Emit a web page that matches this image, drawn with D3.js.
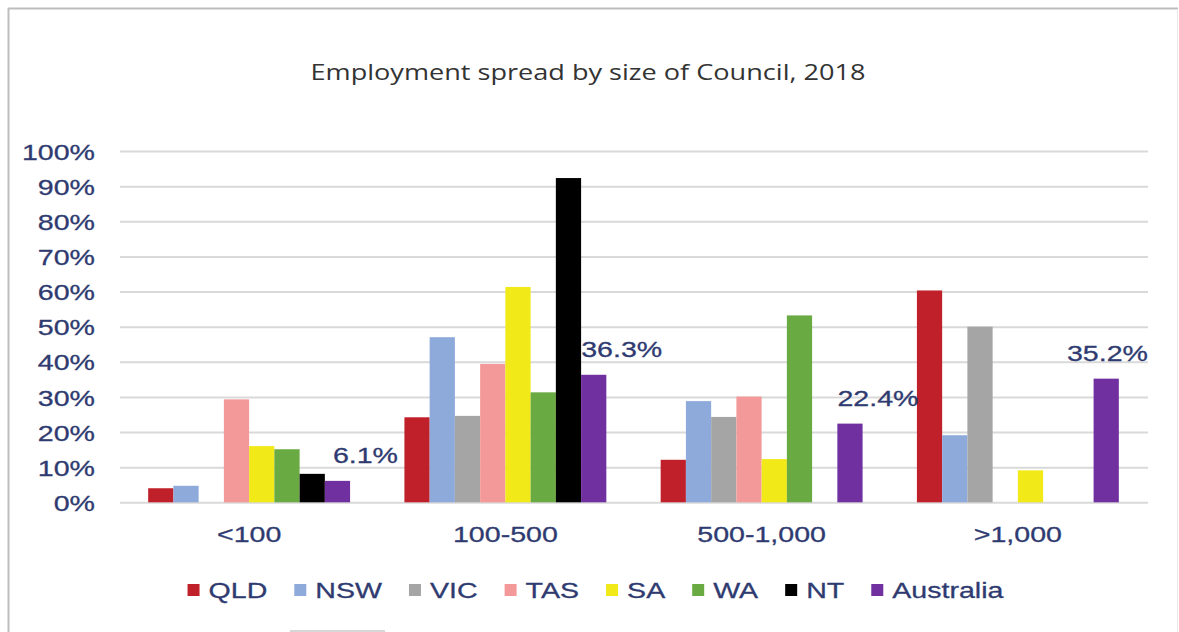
<!DOCTYPE html>
<html>
<head>
<meta charset="utf-8">
<script src="https://cdn.jsdelivr.net/npm/d3@7/dist/d3.min.js"></script>
<style>
  html, body { margin: 0; padding: 0; background: #ffffff; }
  svg { display: block; }
  .lbl { font-family: "Liberation Sans", Arial, sans-serif; fill: #2f3b70; stroke: #2f3b70; stroke-width: 0.3px; }
</style>
</head>
<body>
<svg id="chart" width="1179" height="632"></svg>
<script>
// Council size bands
const categories = ["<100", "100-500", "500-1,000", ">1,000"];
// Jurisdictions (series)
const seriesNames = ["QLD", "NSW", "VIC", "TAS", "SA", "WA", "NT", "Australia"];
// Share of employment (%) per jurisdiction, one value per size band
const QLD       = [4.0, 24.2, 12.1, 60.3];
const NSW       = [4.7, 47.0, 28.8, 19.1];
const VIC       = [0,   24.6, 24.3, 50.0];
const TAS       = [29.3, 39.4, 30.1, 0];
const SA        = [16.0, 61.3, 12.3, 9.1];
const WA        = [15.1, 31.3, 53.2, 0];
const NT        = [8.1, 92.3, 0, 0];
const Australia = [6.1, 36.3, 22.4, 35.2];
const yTicks = [0, 10, 20, 30, 40, 50, 60, 70, 80, 90, 100];
const titleText = "Employment spread by size of Council, 2018";

const seriesValues = [QLD, NSW, VIC, TAS, SA, WA, NT, Australia];
const colors = ["#c0202a", "#8eaadb", "#a5a5a5", "#f4999a", "#f2e918", "#6aaa42", "#000000", "#7030a0"];

const svg = d3.select("#chart");
const W = 1179, H = 632;
const plot = { left: 121, right: 1146, top: 151, bottom: 502.3 };
const STRETCH = 1.27;       // axis fonts are drawn slightly wide
const FONT = 22.5;

// widen a text element horizontally while keeping its anchor
function widen(sel, k) {
  sel.each(function () {
    const len = this.getComputedTextLength();
    d3.select(this).attr("textLength", len * k).attr("lengthAdjust", "spacingAndGlyphs");
  });
  return sel;
}

// frame
svg.append("line").attr("x1", 8).attr("x2", 1178).attr("y1", 8.5).attr("y2", 8.5)
  .attr("stroke", "#bdbdbd").attr("stroke-width", 2);
svg.append("line").attr("x1", 8.5).attr("x2", 8.5).attr("y1", 8).attr("y2", H)
  .attr("stroke", "#bdbdbd").attr("stroke-width", 2);
svg.append("line").attr("x1", 1177.5).attr("x2", 1177.5).attr("y1", 9).attr("y2", H)
  .attr("stroke", "#e8e8e8").attr("stroke-width", 1);
svg.append("line").attr("x1", 290).attr("x2", 385).attr("y1", 631).attr("y2", 631)
  .attr("stroke", "#d6d6d6").attr("stroke-width", 2);

// title
const title = svg.append("text")
  .attr("x", 588).attr("y", 80)
  .attr("text-anchor", "middle")
  .style("font-family", "'Open Sans', sans-serif")
  .style("font-size", "22px")
  .style("fill", "#333333")
  .text(titleText);
title.attr("textLength", 555).attr("lengthAdjust", "spacingAndGlyphs");

// scales
const x0 = d3.scaleBand().domain(categories).range([plot.left, plot.right])
  .paddingInner(0.212).paddingOuter(0.106);
const x1 = d3.scaleBand().domain(seriesNames).range([0, x0.bandwidth()]);
const y = d3.scaleLinear().domain([0, 100]).range([plot.bottom, plot.top]);

// y axis with gridlines
const yAxis = svg.append("g")
  .attr("transform", `translate(${plot.left},0)`)
  .call(d3.axisLeft(y).tickValues(yTicks).tickFormat(d => d + "%")
    .tickSize(-(plot.right - plot.left + 2)).tickPadding(26));
yAxis.select(".domain").remove();
yAxis.selectAll(".tick line").attr("stroke", "#d9d9d9").attr("stroke-width", 2).attr("x1", -1);
yAxis.selectAll(".tick text")
  .attr("class", "lbl")
  .style("font-size", FONT + "px")
  .attr("dy", "0.36em")
  .call(widen, STRETCH);

// x axis labels
const xAxis = svg.append("g")
  .attr("transform", `translate(0,${plot.bottom})`)
  .call(d3.axisBottom(x0).tickSize(0).tickPadding(0));
xAxis.select(".domain").remove();
xAxis.selectAll(".tick text")
  .attr("class", "lbl")
  .style("font-size", FONT + "px")
  .attr("y", 32).attr("dy", "0.36em")
  .call(widen, STRETCH);

// bars
const table = categories.map((c, i) => ({
  category: c,
  values: seriesNames.map((s, j) => ({ series: s, value: seriesValues[j][i], color: colors[j] }))
}));

const groups = svg.append("g").selectAll("g")
  .data(table).join("g")
  .attr("transform", d => `translate(${x0(d.category)},0)`);

groups.selectAll("rect")
  .data(d => d.values.filter(v => v.value > 0))
  .join("rect")
  .attr("x", d => x1(d.series))
  .attr("width", x1.bandwidth())
  .attr("y", d => y(d.value))
  .attr("height", d => y(0) - y(d.value))
  .attr("fill", d => d.color);

// value labels on the Australia series
const labels = svg.append("g").selectAll("text")
  .data(categories.map((c, i) => ({ category: c, value: Australia[i] })))
  .join("text")
  .attr("class", "lbl")
  .style("font-size", FONT + "px")
  .attr("text-anchor", "middle")
  .attr("dy", "0.36em")
  .text(d => d.value.toFixed(1) + "%")
  .call(widen, STRETCH);
labels.each(function (d) {
  const w = +this.getAttribute("textLength");
  let cx = x0(d.category) + x1("Australia") + x1.bandwidth() / 2 + 28;
  cx = Math.min(cx, plot.right + 2 - w / 2);
  d3.select(this).attr("x", cx).attr("y", y(d.value) - 26);
});

// legend
const legend = svg.append("g");
const items = legend.selectAll("g").data(seriesNames.map((s, j) => ({ name: s, color: colors[j] })))
  .join("g");
items.append("rect").attr("width", 12).attr("height", 12).attr("y", -6)
  .attr("fill", d => d.color);
items.append("text").attr("class", "lbl").style("font-size", FONT + "px")
  .attr("x", 21).attr("dy", "0.36em")
  .text(d => d.name)
  .call(widen, STRETCH);
let cursor = 0;
const offsets = [];
const itemGap = 27;
items.each(function () {
  offsets.push(cursor);
  const t = d3.select(this).select("text").node();
  cursor += 21 + (+t.getAttribute("textLength")) + itemGap;
});
const total = cursor - itemGap;
const startX = 595.5 - total / 2;
items.attr("transform", (d, i) => `translate(${startX + offsets[i]},590)`);
</script>
</body>
</html>
